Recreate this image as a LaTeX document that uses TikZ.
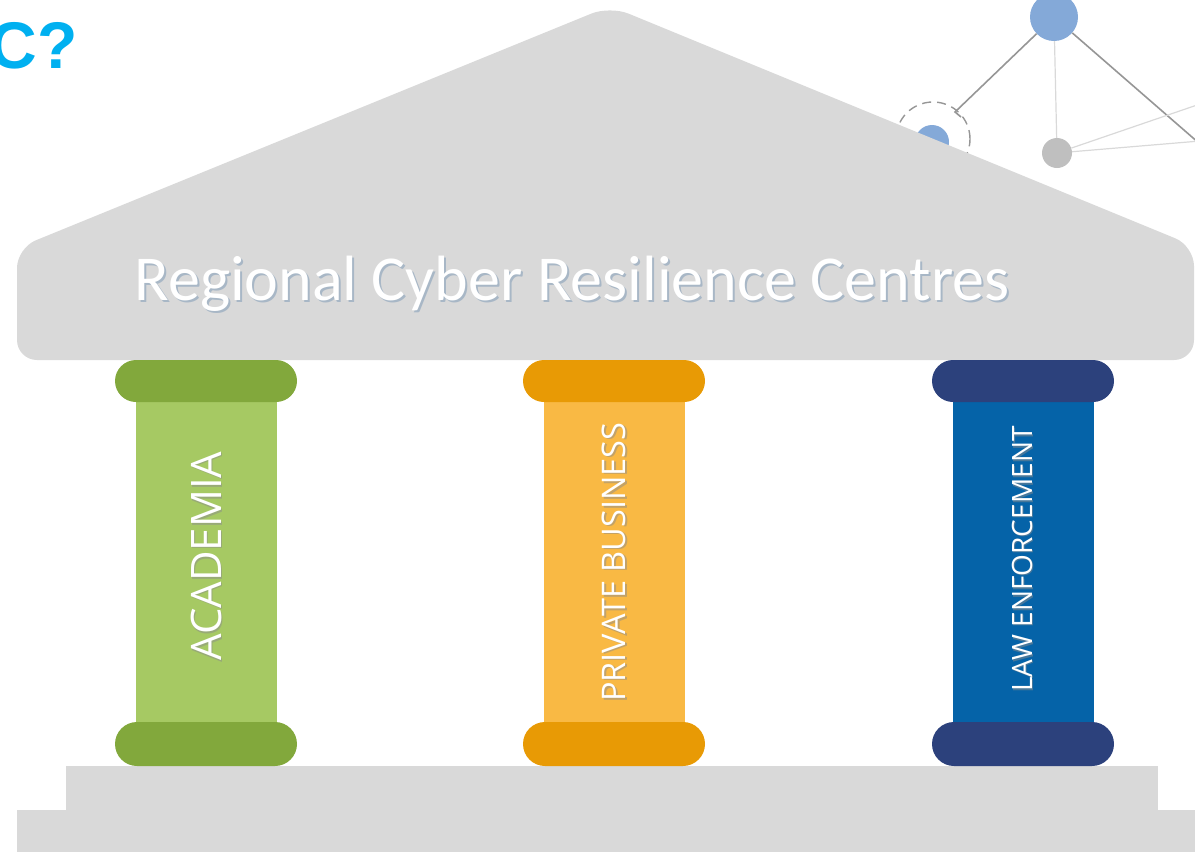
\documentclass[tikz,border=0pt]{standalone}
\usepackage{fontspec}
\setmainfont{Open Sans}
\newfontfamily\titlefont{Carlito}
\newfontfamily\qfont{Liberation Sans}
\definecolor{roofgray}{RGB}{217,217,217}
\definecolor{greencap}{RGB}{130,168,60}
\definecolor{greenshaft}{RGB}{166,201,99}
\definecolor{orangecap}{RGB}{232,154,5}
\definecolor{orangeshaft}{RGB}{249,185,68}
\definecolor{navycap}{RGB}{44,65,124}
\definecolor{blueshaft}{RGB}{5,99,168}
\definecolor{netblue}{RGB}{132,169,216}
\definecolor{netgray}{RGB}{191,191,191}
\definecolor{linedark}{RGB}{150,150,150}
\definecolor{linelight}{RGB}{217,217,217}
\definecolor{qblue}{RGB}{0,176,240}
\definecolor{shadowc}{RGB}{120,150,180}
\tikzset{
  capbox/.style={draw=none,rounded corners=21pt},
  pillartext/.style={text=white,rotate=90,inner sep=0pt,font=\fontsize{#1}{#1}\selectfont},
  pillarshadow/.style={text=black!45,opacity=0.5,rotate=90,inner sep=0pt,font=\fontsize{#1}{#1}\selectfont},
  netnode/.style={circle,inner sep=0pt,draw=none},
  darkline/.style={draw=linedark,line width=1.6pt},
  lightline/.style={draw=linelight,line width=1.2pt},
}
\begin{document}
\begin{tikzpicture}[x=1pt,y=-1pt]
\useasboundingbox (0,0) rectangle (1195,852);
% question text
\node[anchor=base east,inner sep=0pt,text=qblue,font=\qfont\bfseries\fontsize{66}{66}\selectfont] (q) at (78,68) {C?};
% network
\node[netnode,fill=netblue,minimum size=48pt] (big) at (1054,17) {};
\node[netnode,fill=netgray,minimum size=30pt] (gsmall) at (1057,153) {};
\node[netnode,fill=netblue,minimum size=34pt] (bsmall) at (932,142) {};
\node[netnode,draw=linedark,dashed,dash pattern=on 9pt off 6pt,line width=1.4pt,minimum size=74pt] (ring) at (933,139) {};
\coordinate (bend) at (955,112);
\coordinate (tick) at (961,117);
\coordinate (r1) at (1200,144);
\coordinate (r2) at (1200,104);
\coordinate (r3) at (1200,141);
\draw[darkline] (big) -- (bend) -- (tick);
\draw[lightline] (big) -- (gsmall);
\draw[darkline] (big) -- (r1);
\draw[lightline] (gsmall) -- (r2);
\draw[lightline] (gsmall) -- (r3);
% roof
\fill[roofgray,rounded corners=20pt] (17,360) -- (17,248) -- (610,6) -- (1194,246) -- (1194,360) -- cycle;
\node[anchor=base,inner sep=0pt,text=shadowc,opacity=0.5,font=\titlefont\fontsize{64}{64}\selectfont] at (574,302) {Regional Cyber Resilience Centres};
\node[anchor=base,inner sep=0pt,text=white,font=\titlefont\fontsize{64}{64}\selectfont] (title) at (572,300) {Regional Cyber Resilience Centres};
% steps
\fill[roofgray] (66,766) rectangle (1158,810);
\fill[roofgray] (17,810) rectangle (1195,852);
% pillars
\foreach \x/\cc/\sc/\nm in {115/greencap/greenshaft/a,523/orangecap/orangeshaft/b,932/navycap/blueshaft/c}{
  \fill[\sc] (\x+21,400) rectangle (\x+162,724);
  \fill[\cc,capbox] (\x,360) rectangle (\x+182,402);
  \fill[\cc,capbox,rounded corners=22pt] (\x,722) rectangle (\x+182,766);
}
\node[pillarshadow=42] at (207.5,557.5) {ACADEMIA};
\node[pillartext=42] (acad) at (206,556) {ACADEMIA};
\node[pillarshadow=32.5] at (615.5,563.5) {PRIVATE BUSINESS};
\node[pillartext=32.5] (priv) at (614,562) {PRIVATE BUSINESS};
\node[pillarshadow=28] at (1023.5,560.5) {LAW ENFORCEMENT};
\node[pillartext=28] (law) at (1022,559) {LAW ENFORCEMENT};
\end{tikzpicture}
\end{document}
